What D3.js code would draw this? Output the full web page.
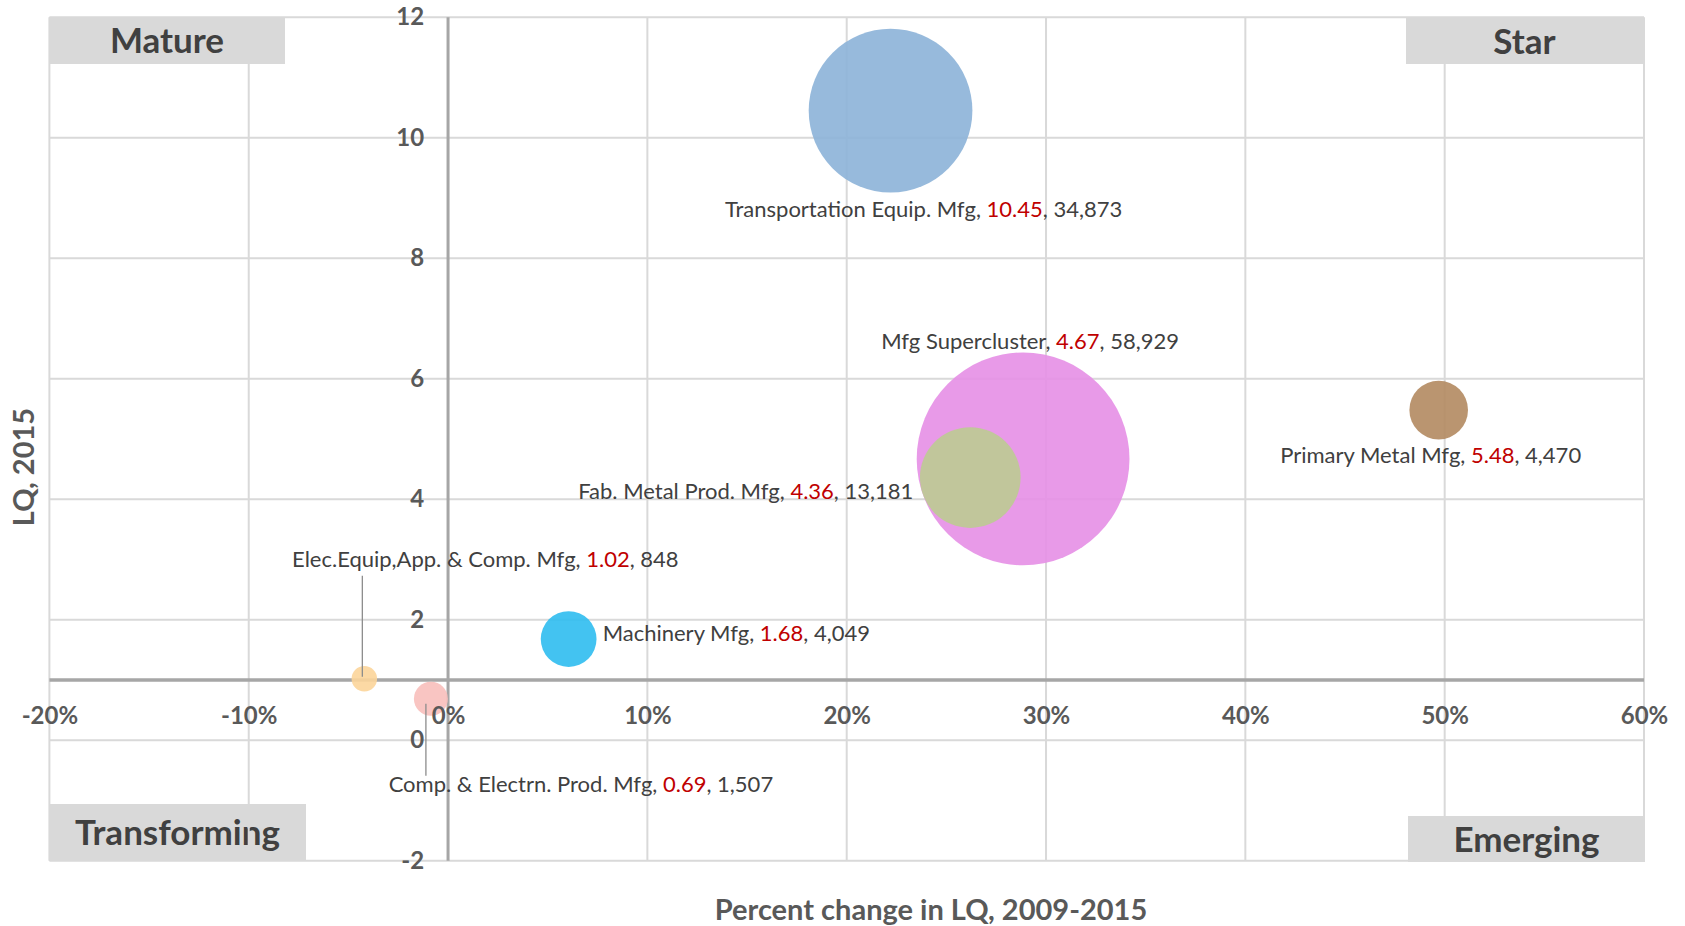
<!DOCTYPE html>
<meta charset="utf-8">
<style>
body{margin:0;background:white}
text{font-family:Lato,"Open Sans",sans-serif}
.grid line{stroke:#d9d9d9;stroke-width:2px}
.tick-lbl text{fill:#595959;font-weight:bold;font-size:24px}
.lbl{font-size:22px;fill:#404040}
.lbl .v{fill:#c00000}
.quad text{font-weight:bold;font-size:35px;fill:#404040}
.title{font-weight:bold;font-size:29px;fill:#595959}
</style>
<svg width="1685" height="926"></svg>
<script src="https://cdnjs.cloudflare.com/ajax/libs/d3/7.8.5/d3.min.js"></script>
<script>

// data
var names = ["Transportation Equip. Mfg", "Mfg Supercluster", "Fab. Metal Prod. Mfg",
             "Primary Metal Mfg", "Machinery Mfg", "Elec.Equip,App. & Comp. Mfg",
             "Comp. & Electrn. Prod. Mfg"];
var pctChange = [0.222, 0.2885, 0.262, 0.497, 0.0605, -0.042, -0.0086];
var lq2015 = [10.45, 4.67, 4.36, 5.48, 1.68, 1.02, 0.69];
var employment = [34873, 58929, 13181, 4470, 4049, 848, 1507];
var colors = ["#8cb2d8", "#e68fe6", "#bdcb92", "#b28a60", "#2fbcef", "#fcd59a", "#f8bfbb"];

var xTicks = [-0.2, -0.1, 0, 0.1, 0.2, 0.3, 0.4, 0.5, 0.6];
var yTicks = [-2, 0, 2, 4, 6, 8, 10, 12];

var quadrants = ["Mature", "Star", "Transforming", "Emerging"];

// layout only: label offsets from bubble centre [dx, dy, anchor]
var labelPos = [[33, 106, "middle"], [7, -110, "middle"], [-57, 21, "end"],
                [-8, 53, "middle"], [34, 2, "start"], [121, -112, "middle"], [150, 93, "middle"]];
// leader lines (index, y1 offset, y2 offset, dx)
var leaders = [[5, -103, -2, -2], [6, 5, 77, -5]];
// quadrant boxes [x0,y0,x1,y1] in pixels
var quadBoxes = [[49, 17, 285, 64], [1406, 18, 1643, 64], [49, 804, 306, 861], [1408, 816, 1645, 862]];

var svg = d3.select("svg");

var x = d3.scaleLinear().domain([-0.2, 0.6]).range([49.4, 1644]);
var y = d3.scaleLinear().domain([-2, 12]).range([860.8, 17.2]);
var r = d3.scaleSqrt().domain([0, 58929]).range([0, 106.4]);

var fmtPct = function(d) { return Math.round(d * 100) + "%"; };
var fmtNum = d3.format(",");

// quadrant boxes (under the gridlines like in the original)
var quad = svg.append("g").attr("class", "quad");
quad.selectAll("rect").data(quadBoxes).enter().append("rect")
    .attr("x", function(d) { return d[0]; })
    .attr("y", function(d) { return d[1]; })
    .attr("width", function(d) { return d[2] - d[0]; })
    .attr("height", function(d) { return d[3] - d[1]; })
    .attr("fill", "#d9d9d9");
quad.selectAll("text").data(quadBoxes).enter().append("text")
    .attr("x", function(d) { return (d[0] + d[2]) / 2; })
    .attr("y", function(d) { return (d[1] + d[3]) / 2 + 12.5; })
    .attr("text-anchor", "middle")
    .text(function(d, i) { return quadrants[i]; });

// gridlines
var grid = svg.append("g").attr("class", "grid");
grid.selectAll(".gx").data(xTicks).enter().append("line")
    .attr("x1", x).attr("x2", x)
    .attr("y1", y(12)).attr("y2", y(-2));
grid.selectAll(".gy").data(yTicks).enter().append("line")
    .attr("y1", y).attr("y2", y)
    .attr("x1", x(-0.2)).attr("x2", x(0.6));

// axis lines crossing at 0% / LQ 1
svg.append("line").attr("x1", x(0)).attr("x2", x(0)).attr("y1", y(12)).attr("y2", y(-2))
    .attr("stroke", "#a6a6a6").attr("stroke-width", 3);
svg.append("line").attr("x1", x(-0.2)).attr("x2", x(0.6)).attr("y1", y(1)).attr("y2", y(1))
    .attr("stroke", "#a6a6a6").attr("stroke-width", 3.5);

// bubbles
var idx = d3.range(names.length);
svg.append("g").selectAll("circle").data(idx).enter().append("circle")
    .attr("cx", function(i) { return x(pctChange[i]); })
    .attr("cy", function(i) { return y(lq2015[i]); })
    .attr("r", function(i) { return r(employment[i]); })
    .attr("fill", function(i) { return colors[i]; })
    .attr("fill-opacity", 0.9);

// leader lines
svg.append("g").selectAll("line").data(leaders).enter().append("line")
    .attr("x1", function(d) { return x(pctChange[d[0]]) + d[3]; })
    .attr("x2", function(d) { return x(pctChange[d[0]]) + d[3]; })
    .attr("y1", function(d) { return y(lq2015[d[0]]) + d[1]; })
    .attr("y2", function(d) { return y(lq2015[d[0]]) + d[2]; })
    .attr("stroke", "#8c8c8c").attr("stroke-width", 1.3);

// data labels
var lbl = svg.append("g").selectAll("text").data(idx).enter().append("text")
    .attr("class", "lbl")
    .attr("x", function(i) { return x(pctChange[i]) + labelPos[i][0]; })
    .attr("y", function(i) { return y(lq2015[i]) + labelPos[i][1]; })
    .attr("text-anchor", function(i) { return labelPos[i][2]; });
lbl.append("tspan").text(function(i) { return names[i] + ", "; });
lbl.append("tspan").attr("class", "v").text(function(i) { return lq2015[i].toFixed(2); });
lbl.append("tspan").text(function(i) { return ", " + fmtNum(employment[i]); });

// tick labels
var xAxis = svg.append("g").attr("class", "tick-lbl")
    .attr("transform", "translate(0," + y(1) + ")")
    .call(d3.axisBottom(x).tickValues(xTicks).tickFormat(fmtPct).tickSize(0).tickPadding(27));
var yAxis = svg.append("g").attr("class", "tick-lbl")
    .attr("transform", "translate(" + x(0) + ",0)")
    .call(d3.axisLeft(y).tickValues(yTicks).tickFormat(function(d) { return String(d); }).tickSize(0).tickPadding(24));
svg.selectAll(".tick-lbl .domain").remove();
svg.selectAll(".tick-lbl").attr("font-size", null).attr("font-family", null);

// axis titles
svg.append("text").attr("class", "title")
    .attr("x", 931).attr("y", 920)
    .attr("text-anchor", "middle")
    .text("Percent change in LQ, 2009-2015");
svg.append("text").attr("class", "title")
    .attr("transform", "translate(34,467) rotate(-90)")
    .attr("text-anchor", "middle")
    .text("LQ, 2015");

</script>
